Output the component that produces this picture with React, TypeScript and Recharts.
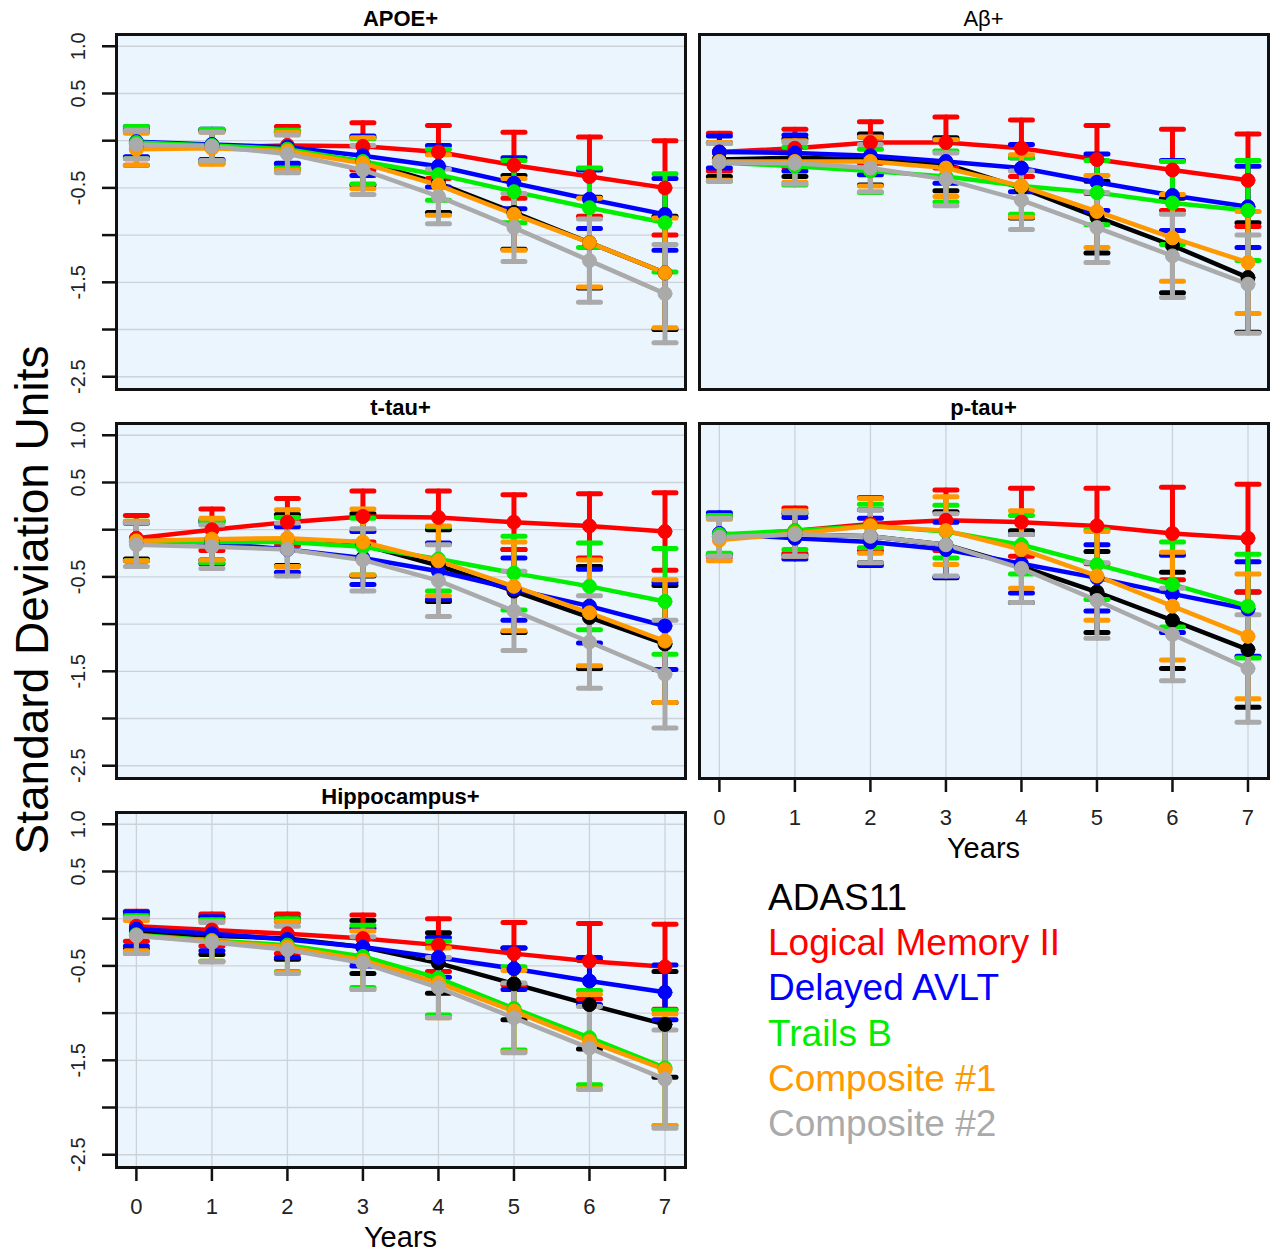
import { CartesianGrid, ErrorBar, Line, LineChart, XAxis, YAxis } from "recharts";

const YEARS = [0, 1, 2, 3, 4, 5, 6, 7];
const Y_TICKS = [-2.5, -2, -1.5, -1, -0.5, 0, 0.5, 1];
const Y_LABELLED = [1, 0.5, -0.5, -1.5, -2.5];

const SERIES = [
  { key: "adas", name: "ADAS11", color: "#000000" },
  { key: "lm", name: "Logical Memory II", color: "#ff0000" },
  { key: "avlt", name: "Delayed AVLT", color: "#0000ff" },
  { key: "trails", name: "Trails B", color: "#00ee00" },
  { key: "comp1", name: "Composite #1", color: "#ff9900" },
  { key: "comp2", name: "Composite #2", color: "#aaaaaa" },
];

// APOE+
const apoeAdas = [-0.03, -0.05, -0.11, -0.22, -0.45, -0.76, -1.08, -1.4];
const apoeAdasErr = [0.15, 0.16, 0.2, 0.25, 0.31, 0.39, 0.48, 0.6];
const apoeLm = [-0.08, -0.07, -0.05, -0.06, -0.12, -0.26, -0.38, -0.5];
const apoeLmErr = [0.18, 0.17, 0.2, 0.25, 0.28, 0.35, 0.42, 0.5];
const apoeAvlt = [-0.01, -0.04, -0.07, -0.16, -0.27, -0.45, -0.62, -0.78];
const apoeAvltErr = [0.16, 0.16, 0.17, 0.21, 0.22, 0.27, 0.31, 0.38];
const apoeTrails = [-0.02, -0.05, -0.09, -0.22, -0.36, -0.54, -0.71, -0.87];
const apoeTrailsErr = [0.17, 0.17, 0.2, 0.24, 0.27, 0.33, 0.42, 0.52];
const apoeComp1 = [-0.09, -0.08, -0.11, -0.24, -0.47, -0.78, -1.08, -1.4];
const apoeComp1Err = [0.17, 0.17, 0.2, 0.27, 0.32, 0.38, 0.47, 0.58];
const apoeComp2 = [-0.04, -0.06, -0.14, -0.31, -0.59, -0.92, -1.27, -1.62];
const apoeComp2Err = [0.15, 0.15, 0.2, 0.26, 0.29, 0.36, 0.44, 0.52];

// Abeta+
const abAdas = [-0.2, -0.18, -0.2, -0.25, -0.5, -0.81, -1.11, -1.45];
const abAdasErr = [0.18, 0.2, 0.27, 0.28, 0.32, 0.38, 0.5, 0.58];
const abLm = [-0.12, -0.08, -0.02, -0.02, -0.08, -0.2, -0.31, -0.42];
const abLmErr = [0.2, 0.2, 0.22, 0.27, 0.3, 0.36, 0.43, 0.49];
const abAvlt = [-0.12, -0.13, -0.16, -0.22, -0.29, -0.44, -0.58, -0.7];
const abAvltErr = [0.17, 0.19, 0.2, 0.23, 0.25, 0.3, 0.37, 0.43];
const abTrails = [-0.23, -0.27, -0.32, -0.38, -0.48, -0.55, -0.66, -0.74];
const abTrailsErr = [0.2, 0.2, 0.23, 0.27, 0.3, 0.34, 0.44, 0.53];
const abComp1 = [-0.22, -0.22, -0.22, -0.29, -0.48, -0.75, -1.03, -1.29];
const abComp1Err = [0.2, 0.22, 0.26, 0.3, 0.33, 0.38, 0.46, 0.54];
const abComp2 = [-0.23, -0.24, -0.29, -0.41, -0.63, -0.92, -1.22, -1.52];
const abComp2Err = [0.2, 0.22, 0.25, 0.28, 0.31, 0.37, 0.44, 0.52];

// t-tau+
const ttAdas = [-0.12, -0.11, -0.11, -0.16, -0.38, -0.65, -0.93, -1.21];
const ttAdasErr = [0.19, 0.21, 0.27, 0.33, 0.38, 0.44, 0.54, 0.62];
const ttLm = [-0.09, 0.0, 0.08, 0.14, 0.13, 0.08, 0.04, -0.02];
const ttLmErr = [0.24, 0.22, 0.25, 0.27, 0.28, 0.29, 0.34, 0.41];
const ttAvlt = [-0.13, -0.14, -0.21, -0.3, -0.44, -0.63, -0.81, -1.02];
const ttAvltErr = [0.2, 0.22, 0.24, 0.28, 0.3, 0.33, 0.39, 0.46];
const ttTrails = [-0.12, -0.13, -0.13, -0.18, -0.31, -0.46, -0.6, -0.76];
const ttTrailsErr = [0.21, 0.22, 0.26, 0.3, 0.34, 0.39, 0.46, 0.56];
const ttComp1 = [-0.12, -0.1, -0.09, -0.13, -0.33, -0.6, -0.88, -1.18];
const ttComp1Err = [0.21, 0.22, 0.3, 0.35, 0.37, 0.47, 0.56, 0.65];
const ttComp2 = [-0.16, -0.18, -0.21, -0.32, -0.54, -0.86, -1.19, -1.53];
const ttComp2Err = [0.23, 0.23, 0.28, 0.33, 0.38, 0.42, 0.49, 0.57];

// p-tau+
const ptAdas = [-0.07, -0.05, -0.07, -0.16, -0.39, -0.66, -0.96, -1.27];
const ptAdasErr = [0.2, 0.22, 0.28, 0.35, 0.38, 0.43, 0.51, 0.61];
const ptLm = [-0.07, -0.01, 0.06, 0.1, 0.08, 0.04, -0.04, -0.09];
const ptLmErr = [0.22, 0.24, 0.28, 0.32, 0.36, 0.4, 0.49, 0.57];
const ptAvlt = [-0.04, -0.09, -0.13, -0.21, -0.36, -0.51, -0.68, -0.84];
const ptAvltErr = [0.22, 0.22, 0.25, 0.29, 0.31, 0.35, 0.41, 0.5];
const ptTrails = [-0.05, -0.01, 0.04, -0.02, -0.16, -0.37, -0.58, -0.81];
const ptTrailsErr = [0.2, 0.2, 0.23, 0.28, 0.31, 0.37, 0.45, 0.55];
const ptComp1 = [-0.11, -0.04, 0.04, -0.01, -0.21, -0.49, -0.81, -1.13];
const ptComp1Err = [0.22, 0.24, 0.29, 0.36, 0.41, 0.47, 0.57, 0.66];
const ptComp2 = [-0.08, -0.05, -0.07, -0.16, -0.41, -0.75, -1.11, -1.47];
const ptComp2Err = [0.2, 0.23, 0.28, 0.33, 0.36, 0.4, 0.49, 0.57];

// Hippocampus+
const hcAdas = [-0.14, -0.18, -0.21, -0.3, -0.47, -0.69, -0.91, -1.12];
const hcAdasErr = [0.18, 0.2, 0.22, 0.28, 0.32, 0.38, 0.47, 0.56];
const hcLm = [-0.08, -0.12, -0.16, -0.21, -0.28, -0.37, -0.45, -0.51];
const hcLmErr = [0.16, 0.17, 0.21, 0.25, 0.28, 0.33, 0.4, 0.45];
const hcAvlt = [-0.11, -0.16, -0.22, -0.3, -0.41, -0.53, -0.66, -0.78];
const hcAvltErr = [0.18, 0.18, 0.19, 0.2, 0.21, 0.22, 0.25, 0.29];
const hcTrails = [-0.17, -0.23, -0.28, -0.4, -0.63, -0.95, -1.26, -1.58];
const hcTrailsErr = [0.2, 0.22, 0.28, 0.33, 0.39, 0.44, 0.5, 0.61];
const hcComp1 = [-0.18, -0.24, -0.3, -0.44, -0.68, -0.98, -1.3, -1.6];
const hcComp1Err = [0.16, 0.21, 0.27, 0.31, 0.37, 0.43, 0.5, 0.59];
const hcComp2 = [-0.18, -0.25, -0.33, -0.47, -0.73, -1.05, -1.37, -1.7];
const hcComp2Err = [0.19, 0.21, 0.25, 0.28, 0.32, 0.37, 0.44, 0.52];

function buildRows(means: number[][], errs: number[][]) {
  return YEARS.map((year, i) => {
    const row: Record<string, number> = { year };
    SERIES.forEach((s, j) => {
      row[s.key] = means[j][i];
      row[s.key + "Err"] = errs[j][i];
    });
    return row;
  });
}

const PANELS = [
  {
    title: "APOE+", bold: true, left: 116, top: 34, yLabels: true, xLabels: false,
    rows: buildRows(
      [apoeAdas, apoeLm, apoeAvlt, apoeTrails, apoeComp1, apoeComp2],
      [apoeAdasErr, apoeLmErr, apoeAvltErr, apoeTrailsErr, apoeComp1Err, apoeComp2Err]
    ),
  },
  {
    title: "Aβ+", bold: false, left: 699, top: 34, yLabels: false, xLabels: false,
    rows: buildRows(
      [abAdas, abLm, abAvlt, abTrails, abComp1, abComp2],
      [abAdasErr, abLmErr, abAvltErr, abTrailsErr, abComp1Err, abComp2Err]
    ),
  },
  {
    title: "t-tau+", bold: true, left: 116, top: 423, yLabels: true, xLabels: false,
    rows: buildRows(
      [ttAdas, ttLm, ttAvlt, ttTrails, ttComp1, ttComp2],
      [ttAdasErr, ttLmErr, ttAvltErr, ttTrailsErr, ttComp1Err, ttComp2Err]
    ),
  },
  {
    title: "p-tau+", bold: true, left: 699, top: 423, yLabels: false, xLabels: true,
    rows: buildRows(
      [ptAdas, ptLm, ptAvlt, ptTrails, ptComp1, ptComp2],
      [ptAdasErr, ptLmErr, ptAvltErr, ptTrailsErr, ptComp1Err, ptComp2Err]
    ),
  },
  {
    title: "Hippocampus+", bold: true, left: 116, top: 812, yLabels: true, xLabels: true,
    rows: buildRows(
      [hcAdas, hcLm, hcAvlt, hcTrails, hcComp1, hcComp2],
      [hcAdasErr, hcLmErr, hcAvltErr, hcTrailsErr, hcComp1Err, hcComp2Err]
    ),
  },
];

const FONT = "'Liberation Sans', Arial, Helvetica, sans-serif";
const FRAME_W = 569;
const FRAME_H = 355;
const AXIS_W = 70;
const PAD_TOP = 22;

const YTick = (props: any) => {
  const { y, payload } = props;
  if (!Y_LABELLED.includes(payload.value)) return <g />;
  return (
    <text
      x={32}
      y={y}
      transform={`rotate(-90, 32, ${y})`}
      textAnchor="middle"
      dominantBaseline="central"
      fontSize={20}
      fontFamily={FONT}
      fill="#222"
    >
      {payload.value.toFixed(1)}
    </text>
  );
};

function Panel({ p }: { p: (typeof PANELS)[number] }) {
  const xAxisH = p.xLabels ? 52 : 2;
  return (
    <>
      <div
        style={{
          position: "absolute",
          left: p.left,
          top: p.top - 27,
          width: FRAME_W,
          textAlign: "center",
          fontSize: 22,
          lineHeight: "24px",
          fontWeight: p.bold ? "bold" : "normal",
        }}
      >
        {p.title}
      </div>
      <div style={{ position: "absolute", left: p.left - AXIS_W, top: p.top - PAD_TOP }}>
        <LineChart
          width={AXIS_W + FRAME_W + 4}
          height={PAD_TOP + FRAME_H + xAxisH + 2}
          data={p.rows}
          margin={{ top: PAD_TOP, right: 4, bottom: 2, left: 0 }}
        >
          <CartesianGrid stroke="#cdd2d8" strokeWidth={1.3} fill="#eaf5fe" fillOpacity={1} />
          <XAxis
            type="number"
            dataKey="year"
            domain={[-0.27, 7.265]}
            ticks={YEARS}
            allowDataOverflow
            axisLine={false}
            height={xAxisH}
            tick={p.xLabels ? { fontSize: 22, fill: "#222", fontFamily: FONT } : false}
            tickLine={p.xLabels ? { stroke: "#111", strokeWidth: 2.5 } : false}
            tickSize={14}
            tickMargin={17}
          />
          <YAxis
            type="number"
            domain={[-2.63, 1.13]}
            ticks={Y_TICKS}
            allowDataOverflow
            width={AXIS_W}
            axisLine={false}
            tick={p.yLabels ? <YTick /> : false}
            tickLine={p.yLabels ? { stroke: "#111", strokeWidth: 2.5 } : false}
            tickSize={14}
          />
          {SERIES.map((s) => (
            <Line
              key={s.key}
              dataKey={s.key}
              name={s.name}
              stroke={s.color}
              strokeWidth={4.5}
              strokeLinecap="round"
              dot={{ r: 7, fill: s.color, stroke: s.color, strokeWidth: 1 }}
              activeDot={false}
              isAnimationActive={false}
            >
              <ErrorBar
                dataKey={s.key + "Err"}
                width={11}
                stroke={s.color}
                strokeWidth={5}
                strokeLinecap="round"
                isAnimationActive={false}
              />
            </Line>
          ))}
        </LineChart>
      </div>
      <div
        style={{
          position: "absolute",
          left: p.left - 1.5,
          top: p.top - 1.5,
          width: FRAME_W + 3,
          height: FRAME_H + 3,
          boxSizing: "border-box",
          border: "3px solid #111",
          pointerEvents: "none",
        }}
      />
      {p.xLabels && (
        <div
          style={{
            position: "absolute",
            left: p.left,
            top: p.top + FRAME_H + 57,
            width: FRAME_W,
            textAlign: "center",
            fontSize: 29,
            lineHeight: "26px",
          }}
        >
          Years
        </div>
      )}
    </>
  );
}

export default function App() {
  return (
    <div
      style={{
        position: "absolute",
        left: 0,
        top: 0,
        width: 1272,
        height: 1254,
        background: "#fff",
        fontFamily: FONT,
        color: "#000",
      }}
    >
      {PANELS.map((p) => (
        <Panel key={p.title} p={p} />
      ))}
      <div
        style={{
          position: "absolute",
          left: 7,
          top: 575,
          width: 50,
          height: 50,
          display: "flex",
          alignItems: "center",
          justifyContent: "center",
        }}
      >
        <div
          style={{
            transform: "rotate(-90deg)",
            whiteSpace: "nowrap",
            fontSize: 46,
            lineHeight: "50px",
          }}
        >
          Standard Deviation Units
        </div>
      </div>
      <div style={{ position: "absolute", left: 768, top: 875 }}>
        {SERIES.map((s) => (
          <div key={s.key} style={{ color: s.color, fontSize: 37, lineHeight: "45.2px", whiteSpace: "nowrap" }}>
            {s.name}
          </div>
        ))}
      </div>
    </div>
  );
}
